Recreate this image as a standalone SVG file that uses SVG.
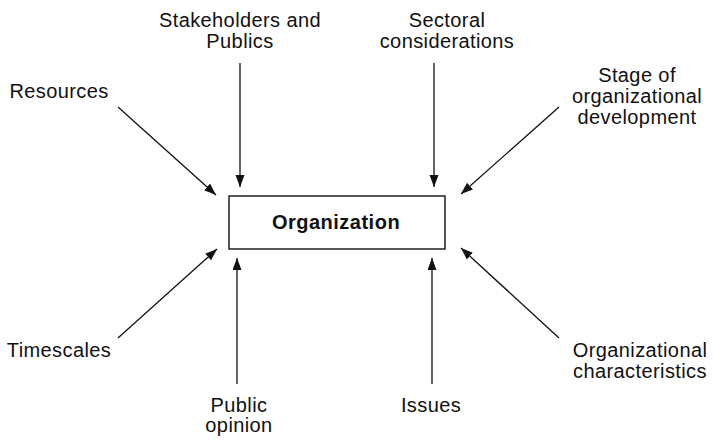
<svg xmlns="http://www.w3.org/2000/svg" width="713" height="441" viewBox="0 0 713 441">
<style>
.lbl{font-family:"Liberation Sans",Arial,Helvetica,sans-serif;font-size:20px;letter-spacing:0.4px;fill:#111;text-anchor:middle}
.main{font-family:"Liberation Sans",Arial,Helvetica,sans-serif;font-size:20px;font-weight:bold;letter-spacing:0.5px;fill:#111;text-anchor:middle}
.conn line{stroke:#111;stroke-width:1.3;marker-end:url(#ah)}
.box{fill:#fff;stroke:#111;stroke-width:1.4}
</style>
<defs>
<marker id="ah" markerUnits="userSpaceOnUse" markerWidth="13" markerHeight="10" refX="12" refY="4.5" orient="auto">
<path d="M0,0 L12,4.5 L0,9 z" fill="#111"/>
</marker>
</defs>
<rect width="713" height="441" fill="#fff"/>
<g id="connectors" class="conn">
<line x1="240" y1="63" x2="240" y2="187"/>
<line x1="434" y1="63" x2="434" y2="187"/>
<line x1="118" y1="107" x2="216" y2="195"/>
<line x1="559" y1="107" x2="461" y2="194"/>
<line x1="118" y1="338" x2="217" y2="249"/>
<line x1="559" y1="338" x2="461" y2="248"/>
<line x1="237" y1="384" x2="237" y2="258"/>
<line x1="432" y1="384" x2="432" y2="258"/>
</g>
<g id="organization">
<rect class="box" x="229" y="196" width="216" height="53"/>
<text class="main" x="336" y="229">Organization</text>
</g>
<g id="stakeholders">
<text class="lbl" x="240" y="26.5">Stakeholders and</text>
<text class="lbl" x="240" y="47.5">Publics</text>
</g>
<g id="sectoral">
<text class="lbl" x="447" y="26.5">Sectoral</text>
<text class="lbl" x="447" y="47.5">considerations</text>
</g>
<g id="resources">
<text class="lbl" x="59" y="97.5">Resources</text>
</g>
<g id="stage">
<text class="lbl" x="637" y="81.5">Stage of</text>
<text class="lbl" x="637" y="102.5">organizational</text>
<text class="lbl" x="637" y="123.5">development</text>
</g>
<g id="timescales">
<text class="lbl" x="59" y="356.5">Timescales</text>
</g>
<g id="characteristics">
<text class="lbl" x="640" y="356.5">Organizational</text>
<text class="lbl" x="640" y="378">characteristics</text>
</g>
<g id="public-opinion">
<text class="lbl" x="239" y="411.5">Public</text>
<text class="lbl" x="239" y="432">opinion</text>
</g>
<g id="issues">
<text class="lbl" x="431" y="411.5">Issues</text>
</g>
</svg>
